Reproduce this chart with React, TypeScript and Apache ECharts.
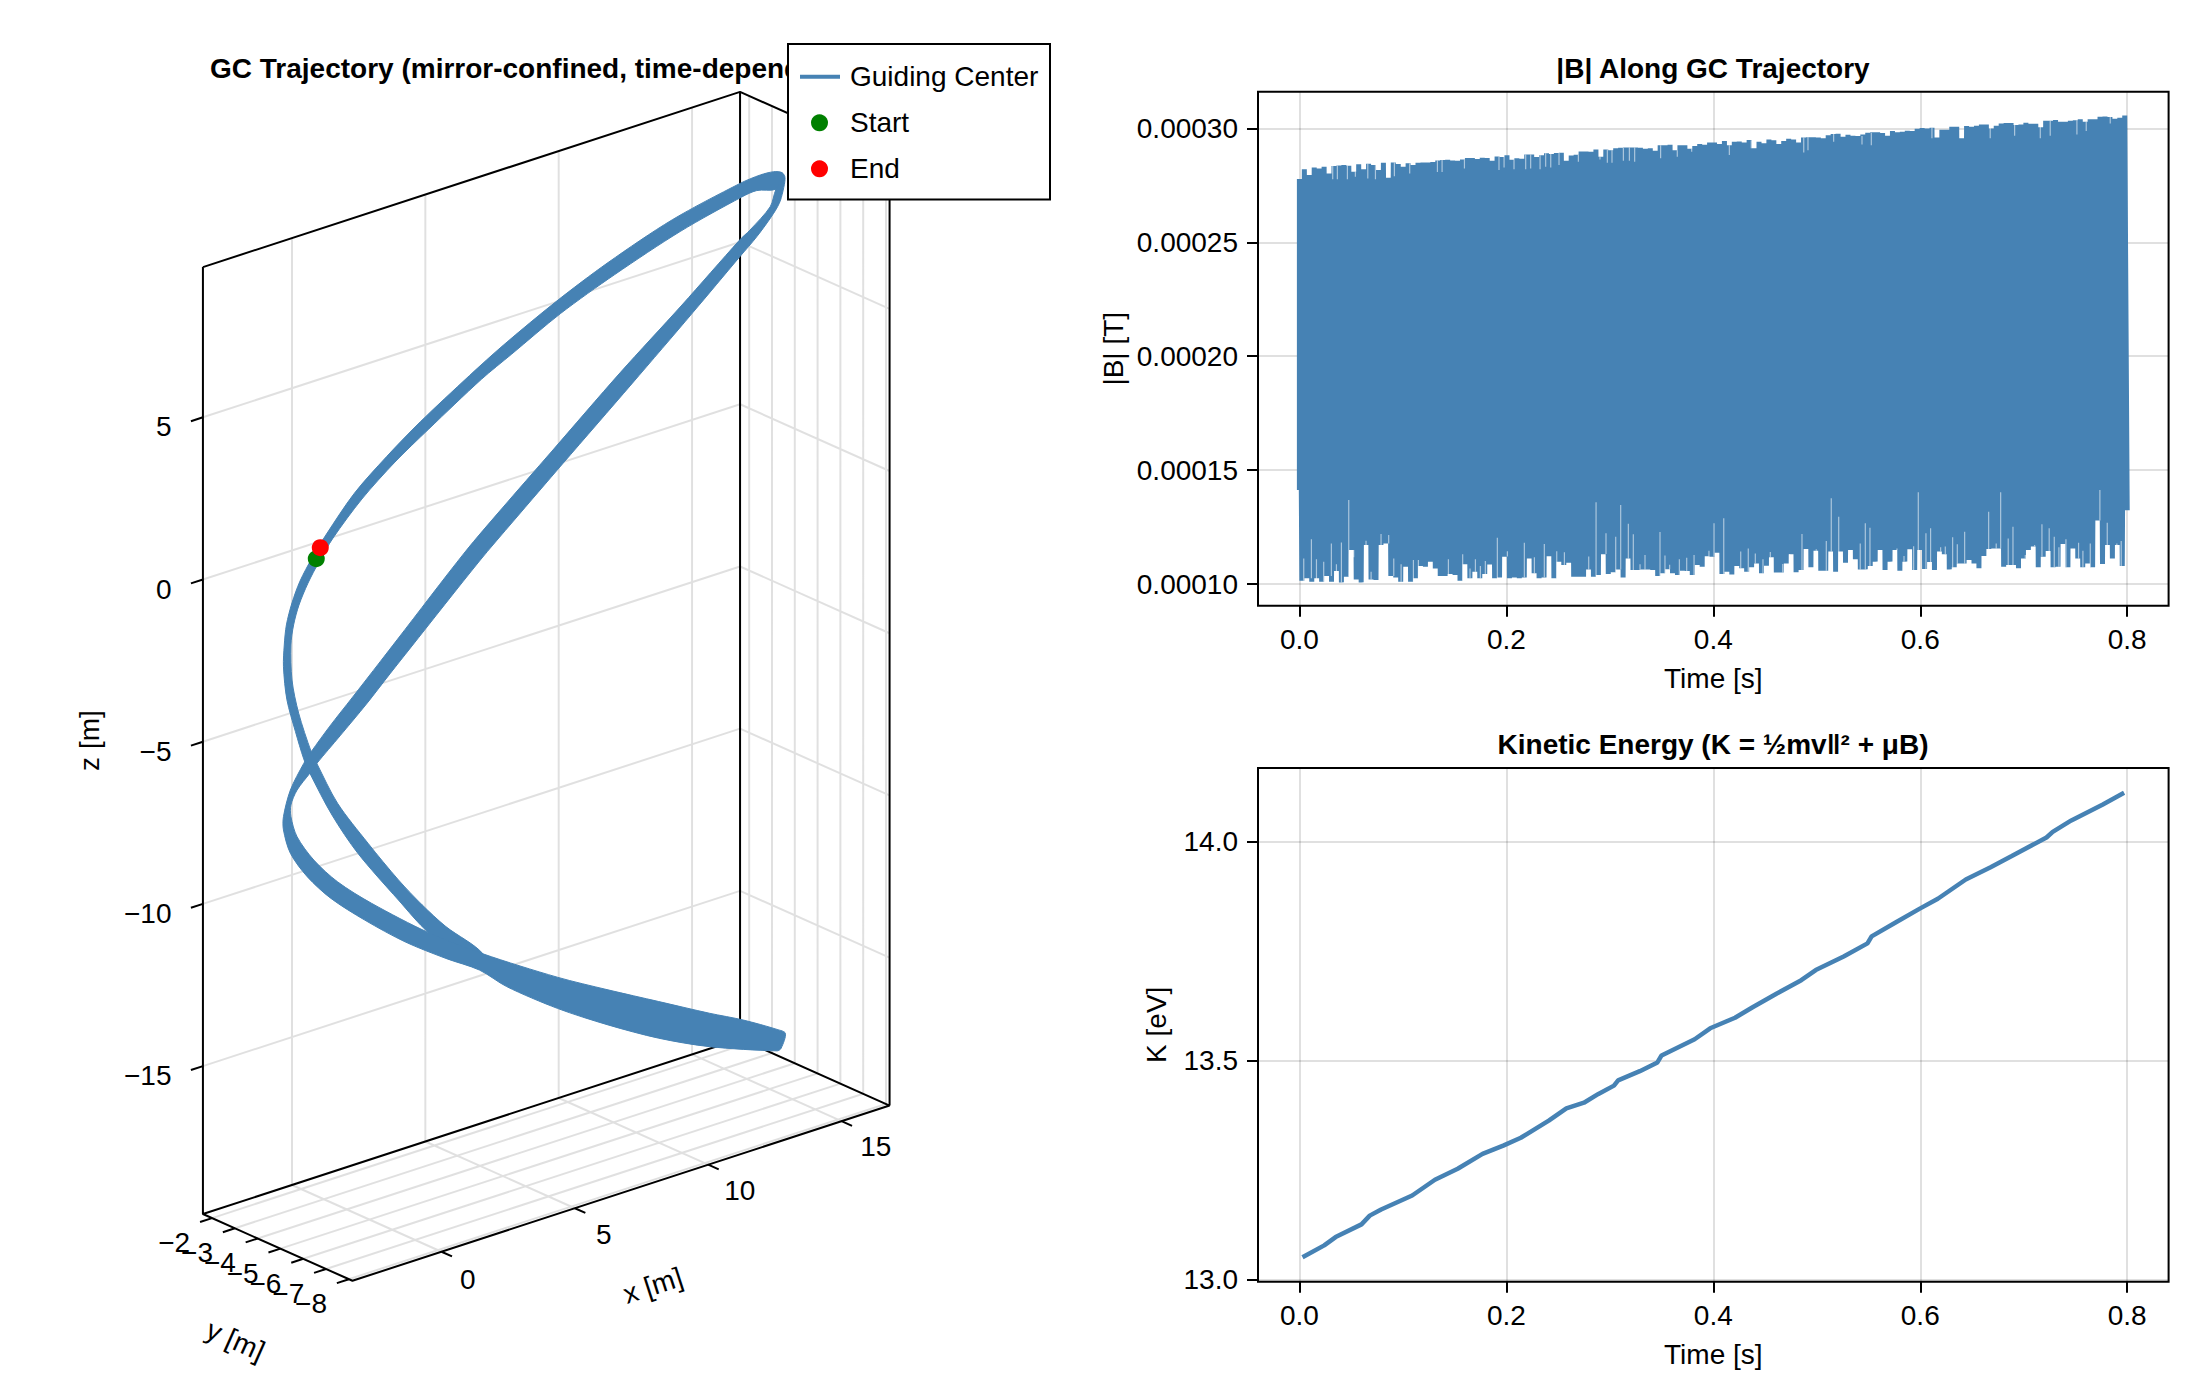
import { useEffect, useRef } from "react";
import * as echarts from "echarts";

const FONT = '"Liberation Sans", "DejaVu Sans", sans-serif';
const BLUE = "#4682B4";
const GRID = "rgba(0,0,0,0.12)";

// limits of the 3d box
const xMin = -3.34;
const xMax = 16.8;
const yMin = -8.157;
const yMax = -1.6;
const zMin = -19.56;
const zMax = 9.63;
const xTicks = [0, 5, 10, 15];
const yTicks = [-2, -3, -4, -5, -6, -7, -8];
const zTicks = [-15, -10, -5, 0, 5];

// trajectory band edges, read against the back wall scales [x along wall, z at left edge]
const upperOuter = [
  [7.03, -11.99], [5.13, -10.89], [3.99, -9.88], [2.47, -8.44], [1.5, -7.26], [0.67, -5.97], [0.44, -5.53],
  [0.13, -4.69], [-0.19, -3.71], [-0.32, -2.69], [-0.29, -2.02], [-0.21, -1.4], [0, -0.72], [0.3, -0.05],
  [0.75, 0.66], [1.27, 1.37], [2.34, 2.66], [3.55, 3.79], [4.81, 4.86], [6.66, 6.29], [7.92, 7.22], [9.89, 8.56],
  [11.85, 9.77], [14.26, 11.09], [16.8, 12.21], [17.56, 12.47], [18.06, 12.57], [18.38, 12.54], [18.48, 12.37],
];
const upperInner = [
  [7.16, -11.54], [5.77, -10.7], [4.88, -10.03], [3.99, -9.26], [2.85, -8.13], [1.71, -6.9], [0.93, -5.67],
  [0.72, -5.31], [0.25, -4.12], [0, -3.1], [-0.04, -2.02], [0.06, -1.4], [0.26, -0.79], [0.6, -0.11], [1.01, 0.54],
  [1.54, 1.28], [2.62, 2.48], [3.86, 3.62], [5.13, 4.64], [7.1, 6.17], [8.24, 6.95], [10.07, 8.2], [12.1, 9.4],
  [14.58, 10.74], [16.86, 11.79], [17.43, 11.99], [18.15, 12.03],
];
const lowerRight = [
  [18.48, 12.37], [18.32, 11.7], [18.06, 11.29], [17.43, 10.57], [16.79, 9.95], [15.02, 8.22], [12.74, 6.03],
  [10.14, 3.56], [8.3, 1.8], [7.03, 0.57], [4.44, -2.11], [3.67, -2.91], [2.79, -3.84], [1.8, -4.82], [0.93, -5.67],
  [0.67, -5.97], [0.19, -6.49], [-0.04, -6.95], [-0.04, -7.31], [0.19, -7.93], [0.82, -8.65], [1.71, -9.32],
  [2.98, -9.98], [5.13, -10.89], [7.16, -11.54], [9.95, -12.26], [11.85, -12.65], [13.75, -13.01],
  [15.65, -13.37], [16.92, -13.58], [18.19, -13.87], [18.5, -13.99],
];
const lowerLeft = [
  [18.15, 12.03], [17.93, 11.49], [17.17, 10.77], [16.79, 10.47], [14.62, 8.46], [12.3, 6.37], [9.75, 3.96],
  [7.82, 2.14], [6.49, 0.85], [3.94, -1.86], [3.3, -2.54], [2.25, -3.65], [1.42, -4.52], [0.72, -5.31], [0.44, -5.67],
  [-0.06, -6.49], [-0.32, -7.31], [-0.32, -7.72], [-0.06, -8.44], [0.57, -9.16], [1.46, -9.83], [2.73, -10.5],
  [4.24, -11.17], [5.77, -11.68], [7.03, -12.04], [8.05, -12.55], [9.95, -13.22], [11.85, -13.73],
  [13.75, -14.14], [15.65, -14.4], [18.19, -14.53], [18.34, -14.45],
];
const startPoint = [0.91, 0.64];
const endPoint = [1.06, 0.98];

// |B| envelope in microtesla, one reading per oscillation
const bHighs = [
  277.7, 282.0, 279.5, 282.8, 282.4, 283.1, 280.2, 283.4, 283.7, 283.9, 283.6, 280.9, 284.2, 282.0, 284.4, 283.9,
  281.7, 284.9, 278.3, 285.0, 284.3, 283.1, 284.6, 283.9, 284.9, 285.0, 285.0, 285.2, 285.9, 286.1, 286.2, 285.9,
  285.8, 286.3, 286.9, 286.9, 286.5, 287.1, 286.9, 285.8, 287.6, 287.4, 288.2, 286.2, 286.8, 286.6, 288.5, 288.5,
  287.4, 288.2, 289.0, 288.7, 289.1, 289.3, 285.8, 288.1, 288.4, 289.8, 289.8, 289.7, 290.7, 287.5, 290.7, 290.4,
  291.2, 291.5, 291.6, 291.6, 291.6, 291.5, 291.0, 291.2, 290.1, 292.5, 292.6, 292.8, 290.4, 292.5, 292.5, 291.0,
  292.2, 293.1, 292.8, 293.8, 293.8, 293.1, 294.4, 292.6, 294.1, 294.2, 293.7, 294.8, 291.2, 294.1, 293.4, 295.1,
  294.7, 293.1, 294.4, 295.4, 295.1, 293.7, 296.0, 296.1, 296.1, 296.0, 295.6, 296.9, 297.5, 297.6, 296.3, 297.2,
  296.7, 296.6, 297.3, 298.0, 298.2, 298.2, 297.9, 296.7, 298.8, 298.2, 298.5, 298.9, 298.8, 299.8, 300.1, 299.9,
  300.2, 295.9, 299.4, 299.4, 300.7, 300.7, 295.6, 301.0, 300.7, 301.1, 301.6, 301.6, 299.9, 301.1, 302.1, 302.3,
  302.3, 301.4, 301.7, 302.4, 302.0, 302.0, 300.4, 303.3, 303.3, 303.6, 302.9, 302.9, 303.3, 303.5, 303.9, 302.9,
  304.0, 304.0, 305.1, 305.2, 304.9, 304.2, 304.6, 305.6,
];
const bLows = [
  141.3, 101.5, 102.6, 101.1, 102.6, 101.1, 103.6, 101.1, 105.8, 100.8, 103.3, 115.0, 102.1, 100.8, 117.2, 102.1,
  101.8, 117.2, 117.9, 103.6, 103.0, 101.1, 107.7, 101.1, 102.6, 108.0, 107.7, 109.9, 106.9, 103.6, 103.6, 104.5,
  104.0, 101.5, 108.8, 102.6, 105.5, 102.6, 104.5, 108.7, 102.6, 103.0, 112.1, 102.6, 103.0, 102.6, 103.0, 111.3,
  104.8, 102.6, 103.0, 112.3, 102.6, 109.9, 108.4, 109.4, 103.3, 103.3, 103.3, 106.5, 103.3, 104.0, 113.2, 104.5,
  105.2, 106.5, 103.0, 111.3, 106.2, 106.2, 106.5, 106.5, 106.2, 103.6, 104.8, 106.6, 104.8, 104.0, 105.9, 105.8,
  104.0, 108.4, 107.7, 112.3, 112.1, 113.8, 104.5, 105.5, 104.3, 108.0, 107.0, 105.5, 107.4, 109.1, 104.8, 108.1,
  111.8, 105.1, 105.1, 109.1, 113.2, 105.3, 106.2, 115.4, 107.4, 114.7, 105.9, 105.9, 114.3, 105.5, 114.3, 109.4,
  115.0, 110.9, 106.5, 106.5, 108.0, 109.9, 115.0, 106.2, 109.9, 115.0, 105.9, 109.9, 115.3, 106.2, 115.0, 106.7,
  109.7, 106.2, 114.3, 113.2, 106.5, 107.4, 109.1, 109.1, 110.6, 109.1, 107.0, 112.4, 115.4, 115.7, 115.7, 107.7,
  108.4, 108.4, 107.0, 111.3, 115.0, 116.5, 107.4, 112.1, 114.6, 107.4, 107.7, 117.6, 107.4, 115.7, 111.3, 107.4,
  109.1, 107.4, 127.9, 108.9, 117.2, 111.3, 117.2, 108.0, 132.4,
];
// thin light gaps in the band: [time, how far the gap reaches]
const bGapsBelow = [
  [0.0042, 111.3], [0.0116, 119.7], [0.0165, 110.9], [0.0235, 109.9], [0.0309, 117.9], [0.0358, 108.8], [0.0406, 118.3],
  [0.0477, 136.9], [0.0525, 111.8], [0.0644, 119.1], [0.0693, 105.5], [0.0789, 122.0], [0.0863, 121.6], [0.0912, 111.3],
  [0.0983, 108.8], [0.1102, 110.6], [0.115, 110.6], [0.144, 111.0], [0.1578, 113.1], [0.1649, 106.9], [0.1701, 110.9],
  [0.1749, 108.0], [0.1797, 110.2], [0.1913, 120.4], [0.201, 114.5], [0.2174, 118.2], [0.2271, 111.8], [0.2367, 117.6],
  [0.2487, 114.5], [0.2561, 114.0], [0.2796, 112.1], [0.2867, 136.0], [0.2963, 122.3], [0.3057, 120.8], [0.3105, 134.7],
  [0.3179, 126.5], [0.3227, 121.9], [0.3292, 108.8], [0.334, 112.8], [0.3485, 122.9], [0.3533, 112.6], [0.3578, 108.5],
  [0.3672, 111.0], [0.3743, 111.6], [0.3814, 112.8], [0.3958, 114.7], [0.4007, 126.7], [0.4101, 128.9], [0.4265, 114.3],
  [0.4338, 115.7], [0.4406, 113.5], [0.448, 110.9], [0.4551, 114.1], [0.4671, 108.9], [0.4738, 113.2], [0.4857, 122.0],
  [0.4995, 115.3], [0.5092, 118.9], [0.514, 137.7], [0.5212, 129.6], [0.542, 117.9], [0.5469, 126.7], [0.5514, 124.8],
  [0.5611, 115.3], [0.5775, 115.7], [0.5843, 112.4], [0.5936, 116.7], [0.5981, 140.3], [0.6055, 122.3], [0.61, 124.5],
  [0.6197, 116.2], [0.6242, 116.5], [0.6313, 120.6], [0.6358, 117.5], [0.6429, 123.0], [0.6661, 131.8], [0.6734, 117.9],
  [0.6777, 140.3], [0.685, 120.0], [0.6896, 125.2], [0.7015, 112.8], [0.7105, 117.2], [0.7176, 126.3], [0.7246, 124.5],
  [0.7295, 120.8], [0.734, 116.2], [0.7408, 119.7], [0.753, 118.2], [0.7572, 114.7], [0.7643, 117.9], [0.7736, 141.3],
  [0.7807, 127.0], [0.79, 117.9], [0.7942, 118.9],
];
const bGapsAbove = [
  [0.0322, 277.6], [0.0367, 277.6], [0.0464, 277.6], [0.0541, 278.7], [0.0661, 278.0], [0.0735, 277.6], [0.0918, 279.0],
  [0.1066, 280.2], [0.1334, 280.8], [0.1379, 280.8], [0.1595, 282.4], [0.1929, 281.7], [0.1978, 282.8], [0.2074, 282.0],
  [0.2187, 282.0], [0.2235, 282.4], [0.2326, 282.0], [0.238, 283.1], [0.2429, 282.8], [0.2509, 283.9], [0.2696, 285.3],
  [0.2905, 286.3], [0.2976, 284.9], [0.3021, 284.9], [0.3131, 285.8], [0.3189, 285.8], [0.324, 285.3], [0.3491, 286.8],
  [0.3652, 287.5], [0.3791, 289.7], [0.4155, 288.3], [0.4367, 291.2], [0.4874, 289.4], [0.4915, 290.4], [0.5163, 294.1],
  [0.5437, 292.9], [0.5527, 292.6], [0.6113, 295.6], [0.6396, 295.3], [0.6441, 295.6], [0.6676, 295.6], [0.6912, 296.7],
  [0.716, 295.6], [0.7256, 296.7], [0.7514, 297.3], [0.7604, 298.8], [0.7836, 302.1],
];

const kTimes = [
  0.003, 0.024, 0.035, 0.06, 0.068, 0.079, 0.109, 0.131, 0.153, 0.177, 0.197, 0.214, 0.241, 0.258, 0.275, 0.289, 0.304,
  0.308, 0.329, 0.346, 0.35, 0.382, 0.397, 0.421, 0.438, 0.461, 0.485, 0.499, 0.526, 0.549, 0.553, 0.577, 0.6, 0.617,
  0.644, 0.668, 0.688, 0.722, 0.728, 0.746, 0.776, 0.797,
];
const kValues = [
  13.051, 13.078, 13.097, 13.126, 13.146, 13.16, 13.192, 13.228, 13.253, 13.287, 13.306, 13.324, 13.363, 13.391, 13.404,
  13.424, 13.443, 13.455, 13.476, 13.496, 13.512, 13.549, 13.574, 13.598, 13.622, 13.653, 13.684, 13.707, 13.738, 13.768,
  13.784, 13.817, 13.848, 13.87, 13.914, 13.942, 13.967, 14.01, 14.023, 14.049, 14.085, 14.112,
];

const timeTicks = [0, 0.2, 0.4, 0.6, 0.8];
const bTicks = [0.0001, 0.00015, 0.0002, 0.00025, 0.0003];
const kTicks = [13, 13.5, 14];

// oblique projection of the Axis3 box onto the hidden cartesian
const project = (x: number, y: number, z: number) => {
  const back = yMax - y;
  return [x + back * 0.855, z + (x - xMin) * 0.2682 - back * 0.3138];
};

const segments = (list: number[][][]) => {
  const out: any[] = [];
  list.forEach((line) => {
    line.forEach((p) => out.push(project(p[0], p[1], p[2])));
    out.push([null, null]);
  });
  return out;
};

const gridLines3d = segments([
  ...zTicks.map((z) => [[xMin, yMax, z], [xMax, yMax, z], [xMax, yMin, z]]),
  ...xTicks.map((x) => [[x, yMax, zMax], [x, yMax, zMin], [x, yMin, zMin]]),
  ...yTicks.map((y) => [[xMax, y, zMax], [xMax, y, zMin], [xMin, y, zMin]]),
]);
const frameLines3d = segments([
  [[xMin, yMax, zMax], [xMin, yMax, zMin], [xMin, yMin, zMin], [xMax, yMin, zMin], [xMax, yMax, zMin], [xMin, yMax, zMin]],
  [[xMin, yMax, zMax], [xMax, yMax, zMax], [xMax, yMin, zMax], [xMax, yMin, zMin]],
  [[xMax, yMax, zMax], [xMax, yMax, zMin]],
]);
const tickLines3d = segments([
  ...zTicks.map((z) => [[xMin, yMax, z], [xMin - 0.45, yMax, z]]),
  ...xTicks.map((x) => [[x, yMin, zMin], [x, yMin - 0.46, zMin]]),
  ...yTicks.map((y) => [[xMin, y, zMin], [xMin - 0.45, y, zMin]]),
]);

const minus = (v: number) => String(v).replace("-", "\u2212");

const textSeries = (data: any[], label: any) => ({
  type: "scatter",
  xAxisIndex: 0,
  yAxisIndex: 0,
  symbolSize: 1,
  silent: true,
  z: 4,
  itemStyle: { color: "transparent", opacity: 1 },
  data,
  label: { show: true, formatter: "{b}", color: "#000", fontSize: 28, fontFamily: FONT, ...label },
});

const lines3d = (data: any[], color: string, width: number, z: number) => ({
  type: "line",
  xAxisIndex: 0,
  yAxisIndex: 0,
  data,
  z,
  showSymbol: false,
  symbol: "none",
  silent: true,
  connectNulls: false,
  lineStyle: { color, width },
});

const ribbons = [
  [...upperOuter, ...[...upperInner].reverse()],
  [...lowerRight, ...[...lowerLeft].reverse()],
];

const bSeriesData = () => {
  const out: number[][] = [[0, bLows[0] * 1e-6]];
  const n = Math.max(bHighs.length, bLows.length - 1);
  const dt = 0.8 / (n - 0.5);
  for (let i = 0; i < n; i++) {
    const t = dt * i;
    if (i < bHighs.length) out.push([t, bHighs[i] * 1e-6]);
    if (i + 1 < bLows.length) out.push([t + dt / 2, bLows[i + 1] * 1e-6]);
  }
  return out;
};

const nearest = (list: number[], t: number) => list[Math.round((t / 0.8) * (list.length - 1))];

const bGapData = () => {
  const out: any[] = [];
  bGapsBelow.forEach(([t, v]) => {
    out.push([t, nearest(bLows, t) * 1e-6], [t, v * 1e-6], [t, null]);
  });
  bGapsAbove.forEach(([t, v]) => {
    out.push([t, nearest(bHighs, t) * 1e-6], [t, v * 1e-6], [t, null]);
  });
  return out;
};

const sideAxes = (gridIndex: number, min: number, max: number, ticks: number[], name: string, gap: number, digits: number) => {
  const tickStyle = { show: true, length: 11, inside: false, lineStyle: { color: "#000", width: 2 } };
  const split = { show: true, lineStyle: { color: GRID, width: 2 } };
  return {
    x: {
      gridIndex,
      type: "value",
      min: -0.04,
      max: 0.84,
      name: "Time [s]",
      nameLocation: "middle",
      nameGap: 59,
      nameTextStyle: { fontSize: 28, fontFamily: FONT, color: "#000" },
      axisLine: { show: false, onZero: false },
      axisTick: { ...tickStyle, customValues: timeTicks },
      axisLabel: {
        fontSize: 28,
        fontFamily: FONT,
        color: "#000",
        margin: 20,
        customValues: timeTicks,
        formatter: (v: number) => v.toFixed(1),
      },
      splitLine: split,
    },
    y: {
      gridIndex,
      type: "value",
      min,
      max,
      name,
      nameLocation: "middle",
      nameGap: gap,
      nameRotate: 90,
      nameTextStyle: { fontSize: 28, fontFamily: FONT, color: "#000" },
      axisLine: { show: false, onZero: false },
      axisTick: { ...tickStyle, customValues: ticks },
      axisLabel: {
        fontSize: 28,
        fontFamily: FONT,
        color: "#000",
        margin: 20,
        customValues: ticks,
        formatter: (v: number) => v.toFixed(digits),
      },
      splitLine: split,
    },
  };
};

const App = () => {
  const chartRef = useRef<HTMLDivElement>(null);

  useEffect(() => {
    const chart = echarts.init(chartRef.current, null, { renderer: "svg" });

    const top = sideAxes(1, 0.00009057, 0.000316, bTicks, "|B| [T]", 131, 5);
    const bottom = sideAxes(2, 12.995, 14.169, kTicks, "K [eV]", 88, 1);

    const legendFont = { fontSize: 28, fontFamily: FONT, fill: "#000", verticalAlign: "middle" };

    const option: any = {
      animation: false,
      backgroundColor: "#fff",
      textStyle: { fontFamily: FONT },
      title: [
        {
          text: "GC Trajectory (mirror-confined, time-dependent)",
          left: 210,
          top: 54,
          padding: 0,
          textStyle: { fontSize: 28, fontWeight: "bold", fontFamily: FONT, color: "#000" },
        },
        {
          text: "|B| Along GC Trajectory",
          left: 1713,
          top: 54,
          padding: 0,
          textAlign: "center",
          textStyle: { fontSize: 28, fontWeight: "bold", fontFamily: FONT, color: "#000" },
        },
        {
          text: "Kinetic Energy (K = ½mv‖² + μB)",
          left: 1713,
          top: 730,
          padding: 0,
          textAlign: "center",
          textStyle: { fontSize: 28, fontWeight: "bold", fontFamily: FONT, color: "#000" },
        },
      ],
      grid: [
        { left: 50, top: 20, width: 900, height: 1360 },
        { left: 1258, top: 91.8, width: 910.6, height: 513.9, show: true, borderColor: "#000", borderWidth: 2 },
        { left: 1258, top: 767.9, width: 910.6, height: 513.8, show: true, borderColor: "#000", borderWidth: 2 },
      ],
      xAxis: [
        { gridIndex: 0, type: "value", show: false, min: -242 / 26.67, max: 658 / 26.67 },
        top.x,
        bottom.x,
      ],
      yAxis: [
        { gridIndex: 0, type: "value", show: false, min: -800.5 / 32.44, max: 559.5 / 32.44 },
        top.y,
        bottom.y,
      ],
      graphic: [
        { type: "rect", z: 20, shape: { x: 788, y: 44, width: 262, height: 155.5 }, style: { fill: "#fff", stroke: "#000", lineWidth: 2 } },
        { type: "line", z: 21, shape: { x1: 800, y1: 76.8, x2: 840, y2: 76.8 }, style: { stroke: BLUE, lineWidth: 4 } },
        { type: "circle", z: 21, shape: { cx: 819.5, cy: 122.8, r: 8.5 }, style: { fill: "#008000" } },
        { type: "circle", z: 21, shape: { cx: 819.5, cy: 168.8, r: 8.5 }, style: { fill: "#ff0000" } },
        { type: "text", z: 21, style: { text: "Guiding Center", x: 850, y: 76.8, ...legendFont } },
        { type: "text", z: 21, style: { text: "Start", x: 850, y: 122.8, ...legendFont } },
        { type: "text", z: 21, style: { text: "End", x: 850, y: 168.8, ...legendFont } },
      ],
      series: [
        lines3d(gridLines3d, GRID, 2, 1),
        lines3d(frameLines3d, "#000", 2, 2),
        lines3d(tickLines3d, "#000", 2, 2),
        textSeries(
          zTicks.map((z) => ({ name: minus(z), value: project(xMin - 1.16, yMax, z) })),
          { position: [0, 0], align: "right", verticalAlign: "middle" }
        ),
        textSeries(
          xTicks.map((x) => ({ name: minus(x), value: project(x * 1.02, yMin - 1.17, zMin) })),
          { position: [0, 2], align: "center", verticalAlign: "top" }
        ),
        textSeries(
          yTicks.map((y) => ({ name: minus(y), value: project(xMin - 0.8, y, zMin) })),
          { position: [0, 4], align: "right", verticalAlign: "top" }
        ),
        textSeries(
          [{ name: "z [m]", value: [-7.57, -4.98] }],
          { position: [0, 0], align: "center", verticalAlign: "middle", rotate: 90 }
        ),
        textSeries(
          [{ name: "x [m]", value: [13.55, -21.78] }],
          { position: [0, 0], align: "center", verticalAlign: "middle", rotate: 18 }
        ),
        textSeries(
          [{ name: "y [m]", value: [-2.1, -23.47] }],
          { position: [0, 0], align: "center", verticalAlign: "middle", rotate: -24 }
        ),
        {
          type: "custom",
          xAxisIndex: 0,
          yAxisIndex: 0,
          clip: false,
          silent: true,
          z: 5,
          data: ribbons.map((r, i) => [r[0][0], r[0][1], i]),
          renderItem: (params: any, api: any) => ({
            type: "polygon",
            shape: { points: ribbons[params.dataIndex].map((p) => api.coord(p)), smooth: 0.3 },
            style: { fill: BLUE, stroke: BLUE, lineWidth: 1 },
          }),
        },
        {
          name: "Start",
          type: "scatter",
          xAxisIndex: 0,
          yAxisIndex: 0,
          z: 6,
          silent: true,
          symbolSize: 17,
          itemStyle: { color: "#008000", opacity: 1 },
          data: [startPoint],
        },
        {
          name: "End",
          type: "scatter",
          xAxisIndex: 0,
          yAxisIndex: 0,
          z: 7,
          silent: true,
          symbolSize: 17,
          itemStyle: { color: "#ff0000", opacity: 1 },
          data: [endPoint],
        },
        {
          type: "line",
          xAxisIndex: 1,
          yAxisIndex: 1,
          z: 3,
          silent: true,
          symbol: "none",
          showSymbol: false,
          lineStyle: { color: BLUE, width: 5, join: "bevel", cap: "butt" },
          data: bSeriesData(),
        },
        {
          type: "line",
          xAxisIndex: 1,
          yAxisIndex: 1,
          z: 4,
          silent: true,
          symbol: "none",
          showSymbol: false,
          connectNulls: false,
          lineStyle: { color: "rgba(255,255,255,0.55)", width: 1.2 },
          data: bGapData(),
        },
        {
          type: "line",
          xAxisIndex: 2,
          yAxisIndex: 2,
          z: 3,
          silent: true,
          symbol: "none",
          showSymbol: false,
          lineStyle: { color: BLUE, width: 4.5 },
          data: kTimes.map((t, i) => [t, kValues[i]]),
        },
      ],
    };

    chart.setOption(option);

    return () => {
      chart.dispose();
    };
  }, []);

  return <div ref={chartRef} style={{ position: "absolute", left: 0, top: 0, width: "2200px", height: "1400px" }} />;
};

export default App;
